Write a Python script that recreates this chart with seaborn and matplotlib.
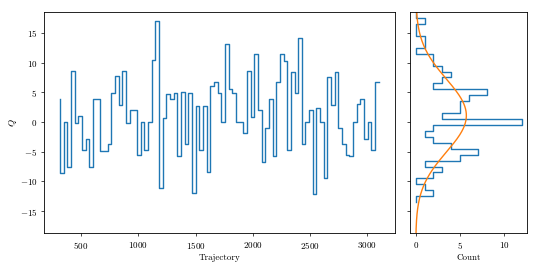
import numpy as np
import pandas as pd
import matplotlib
matplotlib.use("Agg")
import matplotlib.pyplot as plt
import seaborn as sns

# ================================
# Data
# ================================
# trajectory index: one measurement every 32 trajectories
trajectory = np.arange(316, 316 + 32 * 88, 32)

q_values = [
    3.8, -8.66, 0.0, -7.6, 8.6, -0.15, 1.0, -4.79, -2.94, -7.6,
    3.9, 3.8, -4.9, -4.9, -3.67, 4.8, 7.71, 2.94, 8.6, -0.15,
    2.0, 2.0, -5.63, 0.0, -4.68, 0.0, 10.45, 17.07, -11.18, 0.7,
    4.74, 3.79, 4.9, -5.74, 5.07, -3.78, 4.9, -11.97, 2.67, -4.79,
    2.67, -8.43, 6.03, 6.7, 4.8, 0.0, 13.15, 5.64, 4.8, 0.0,
    0.0, -1.93, 8.66, 0.87, 11.45, 1.94, -6.75, -0.98, 3.9, -5.8,
    6.81, 11.45, 10.23, -4.79, 8.4, 4.8, 14.16, -3.78, 0.0, 1.94,
    -12.19, 2.38, 0.0, -9.4, 7.54, 2.94, 8.4, -0.98, -3.78, -5.63,
    -5.74, 0.0, 3.06, 3.9, -2.94, 0.0, -4.79, 6.76,
]

df = pd.DataFrame({"trajectory": trajectory, "Q": q_values})

# integer-centred bins of width 1 (one empty bin on each side so the
# step outline drops back to zero at both ends)
bin_edges = np.arange(-13.5, 19.0, 1.0)

# ================================
# Style
# ================================
plt.rcParams["font.family"] = ["cmr10", "DejaVu Serif"]
plt.rcParams["mathtext.fontset"] = "cm"
plt.rcParams["axes.formatter.use_mathtext"] = True
plt.rcParams["font.size"] = 6.5
plt.rcParams["axes.linewidth"] = 0.6
plt.rcParams["xtick.major.size"] = 2.3
plt.rcParams["ytick.major.size"] = 2.3
plt.rcParams["xtick.major.width"] = 0.5
plt.rcParams["ytick.major.width"] = 0.5
plt.rcParams["xtick.major.pad"] = 2.5
plt.rcParams["ytick.major.pad"] = 2.5

fig, (ax, ax_hist) = plt.subplots(
    1, 2, figsize=(5.4, 2.7), dpi=100, sharey=True,
    gridspec_kw={"width_ratios": [3, 1]},
)
fig.subplots_adjust(left=0.0815, right=0.9765, bottom=0.137, top=0.955, wspace=0.067)

# ================================
# Left: Q history
# ================================
sns.lineplot(data=df, x="trajectory", y="Q", ax=ax, estimator=None,
             drawstyle="steps-pre", color="C0", linewidth=1.0)
ax.set_xlabel("Trajectory", labelpad=2)
ax.set_ylabel(r"$Q$", labelpad=0.5)

# ================================
# Right: histogram + gaussian fit
# ================================
sns.histplot(data=df, y="Q", bins=bin_edges, element="step", fill=False,
             color="C0", linewidth=1.0, ax=ax_hist)

mu, sigma = df["Q"].mean(), df["Q"].std()
grid = np.linspace(-20, 21, 300)
fit = len(df) * 1.0 * np.exp(-0.5 * ((grid - mu) / sigma) ** 2) / (sigma * np.sqrt(2 * np.pi))
sns.lineplot(x=fit, y=grid, orient="y", sort=False, estimator=None,
             color="C1", linewidth=1.0, ax=ax_hist)

ax_hist.set_xlabel("Count", labelpad=2)
ax_hist.set_ylabel("")
ax_hist.set_xlim(-0.6, 12.6)
ax_hist.tick_params(labelleft=False)

ax.set_ylim(-18.7, 18.5)

fig.savefig("out.png", dpi=100)
print("saved out.png")
